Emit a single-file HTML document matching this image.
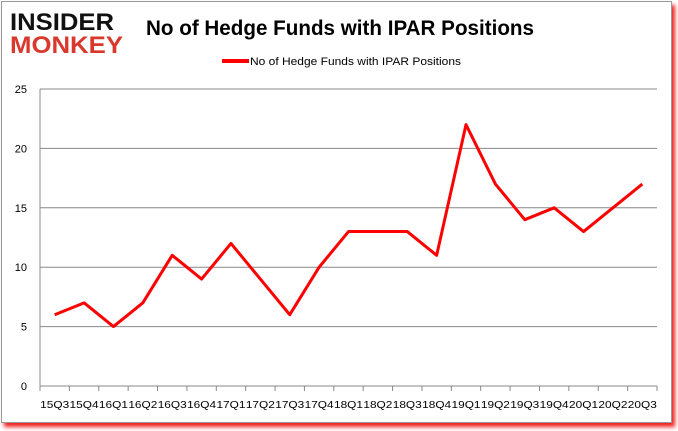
<!DOCTYPE html>
<html><head><meta charset="utf-8"><style>
body{margin:0;background:#fff;}
#wrap{position:relative;width:678px;height:431px;overflow:hidden;background:#fff;font-family:"Liberation Sans",sans-serif;}
#frame{position:absolute;left:1px;top:1px;width:669px;height:420px;border:1px solid #999;background:#fff;box-shadow:3px 4px 4px #e22;}
</style></head><body>
<div id="wrap">
<div id="frame"></div>
<svg id="svg" width="678" height="431" style="position:absolute;left:0;top:0">
<g>
<text x="10" y="30" font-family="Liberation Sans" font-weight="bold" font-size="24" fill="#111" textLength="104" lengthAdjust="spacingAndGlyphs">INSIDER</text>
<text x="10" y="53" font-family="Liberation Sans" font-weight="bold" font-size="24" fill="#d9392c" textLength="113" lengthAdjust="spacingAndGlyphs">MONKEY</text>
</g>
<text x="146" y="35" font-weight="bold" font-size="21" fill="#000" textLength="388" lengthAdjust="spacingAndGlyphs">No of Hedge Funds with IPAR Positions</text>
<line x1="222" y1="61" x2="249" y2="61" stroke="#f00" stroke-width="4"/>
<text x="250" y="65" font-size="11" fill="#000" textLength="211" lengthAdjust="spacingAndGlyphs">No of Hedge Funds with IPAR Positions</text>
<g id="grid"></g><g id="axes"></g><g id="series"></g>
</svg>
</div>
<script>
const categories=["15Q3","15Q4","16Q1","16Q2","16Q3","16Q4","17Q1","17Q2","17Q3","17Q4","18Q1","18Q2","18Q3","18Q4","19Q1","19Q2","19Q3","19Q4","20Q1","20Q2","20Q3"];
const values=[6,7,5,7,11,9,12,9,6,10,13,13,13,11,22,17,14,15,13,15,17];
const yTicks=[0,5,10,15,20,25];
const NS="http://www.w3.org/2000/svg";
const X0=40,X1=657,Y0=386,Y1=89,YMAX=25;
const bw=(X1-X0)/categories.length;
function xs(i){return X0+bw*(i+0.5);}
function ys(v){return Y0-(Y0-Y1)*v/YMAX;}
function mk(tag,attrs,parent){const e=document.createElementNS(NS,tag);for(const k in attrs)e.setAttribute(k,attrs[k]);document.getElementById(parent).appendChild(e);return e;}
yTicks.forEach(t=>{
  const l=mk('line',{x1:X0,x2:X1,y1:ys(t),y2:ys(t),stroke:'#888','stroke-width':1},'grid');
  
  
  const tx=mk('text',{x:27,y:ys(t)+4,'text-anchor':'end','font-size':11,fill:'#000'},'axes');
  tx.textContent=t;
  
  
});
const ax=mk('line',{x1:X0,x2:X0,y1:Y1,y2:Y0+5,stroke:'#888'},'axes');


for(let i=0;i<=categories.length;i++){
  const t=mk('line',{x1:X0+bw*i,x2:X0+bw*i,y1:Y0,y2:Y0+5,stroke:'#888'},'axes');
  
  
}
categories.forEach((c,i)=>{
  const tx=mk('text',{x:xs(i),y:408,'text-anchor':'middle','font-size':10.5,fill:'#000',textLength:29,lengthAdjust:'spacingAndGlyphs'},'axes');
  tx.textContent=c;
  
  
});
const pts=values.map((v,i)=>xs(i)+','+ys(v)).join(' ');
const pl=mk('polyline',{points:pts,fill:'none',stroke:'#f00','stroke-width':3,'stroke-linejoin':'round'},'series');


</script>
</body></html>
